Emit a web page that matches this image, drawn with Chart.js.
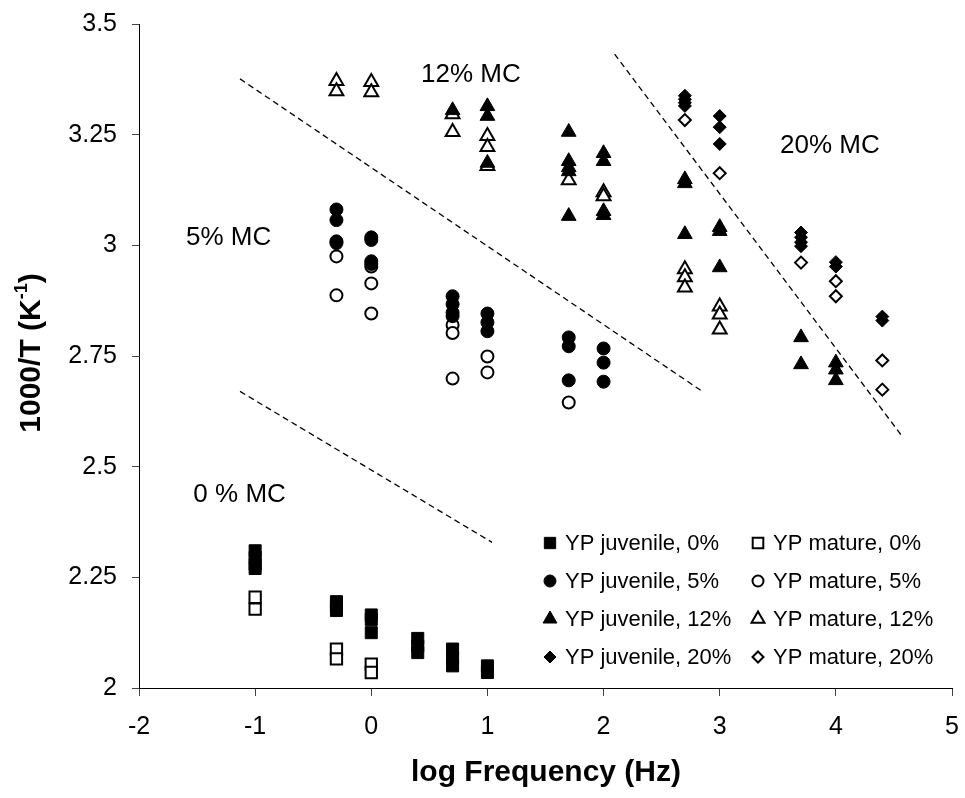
<!DOCTYPE html>
<html>
<head>
<meta charset="utf-8">
<script src="https://cdn.jsdelivr.net/npm/chart.js@4.4.1/dist/chart.umd.min.js"></script>
<style>
  body { margin: 0; background: #fff; }
  canvas { display: block; }
</style>
</head>
<body>
<canvas id="chart" width="965" height="798"></canvas>
<script>
// tick labels
const xTickLabels = ['-2', '-1', '0', '1', '2', '3', '4', '5'];
const yTickLabels = ['2', '2.25', '2.5', '2.75', '3', '3.25', '3.5'];

// YP juvenile / mature, per moisture content (log frequency, 1000/T)
const juv0X = [-1, -1, -1, -1, -0.3, -0.3, -0.3, 0, 0, 0, 0.4, 0.4, 0.4, 0.7, 0.7, 0.7, 1, 1];
const juv0Y = [2.31, 2.295, 2.28, 2.27, 2.195, 2.185, 2.175, 2.165, 2.155, 2.125, 2.112, 2.095, 2.08, 2.088, 2.068, 2.05, 2.05, 2.035];
const mat0X = [-1, -1, -0.3, -0.3, 0, 0];
const mat0Y = [2.205, 2.178, 2.088, 2.066, 2.054, 2.035];

const juv5X = [-0.3, -0.3, -0.3, -0.3, 0, 0, 0, 0, 0.7, 0.7, 0.7, 0.7, 1, 1, 1, 1.7, 1.7, 1.7, 2, 2, 2];
const juv5Y = [3.081, 3.057, 3.009, 3.005, 3.018, 3.012, 2.964, 2.958, 2.885, 2.867, 2.848, 2.84, 2.846, 2.826, 2.806, 2.792, 2.772, 2.695, 2.767, 2.735, 2.692];
const mat5X = [-0.3, -0.3, 0, 0, 0, 0.7, 0.7, 0.7, 1, 1, 1.7];
const mat5Y = [2.975, 2.887, 2.952, 2.914, 2.846, 2.82, 2.802, 2.699, 2.749, 2.713, 2.645];

const juv12X = [0.7, 1, 1, 1, 1.7, 1.7, 1.7, 1.7, 1.7, 2, 2, 2, 2, 2.7, 2.7, 2.7, 3, 3, 3, 3.7, 3.7, 4, 4, 4];
const juv12Y = [3.305, 3.314, 3.292, 3.186, 3.256, 3.19, 3.176, 3.167, 3.066, 3.208, 3.19, 3.077, 3.068, 3.149, 3.14, 3.025, 3.041, 3.032, 2.95, 2.792, 2.731, 2.735, 2.719, 2.695];
const mat12X = [-0.3, -0.3, 0, 0, 0.7, 0.7, 1, 1, 1, 1.7, 2, 2, 2.7, 2.7, 2.7, 3, 3, 3];
const mat12Y = [3.371, 3.348, 3.369, 3.346, 3.296, 3.256, 3.247, 3.222, 3.179, 3.147, 3.12, 3.111, 2.946, 2.928, 2.905, 2.862, 2.844, 2.81];

const juv20X = [2.7, 2.7, 2.7, 2.7, 3, 3, 3, 3.7, 3.7, 3.7, 3.7, 4, 4, 4.4, 4.4];
const juv20Y = [3.338, 3.33, 3.322, 3.315, 3.292, 3.267, 3.229, 3.029, 3.018, 3.007, 2.998, 2.962, 2.952, 2.839, 2.83];
const mat20X = [2.7, 3, 3.7, 4, 4, 4.4, 4.4];
const mat20Y = [3.283, 3.163, 2.961, 2.919, 2.885, 2.74, 2.674];

// dashed boundary lines
const line0X = [-1.13, 1.04];
const line0Y = [2.670, 2.329];
const line5X = [-1.13, 2.856];
const line5Y = [3.376, 2.669];
const line20X = [2.095, 4.578];
const line20Y = [3.432, 2.566];

// region labels
const regionNames = ['12% MC', '20% MC', '5% MC', '0 % MC'];
const regionX = [0.858, 3.948, -1.228, -1.134];
const regionY = [3.385, 3.224, 3.018, 2.436];

const FONT = "'Liberation Sans', Arial, sans-serif";

function pts(xs, ys) {
    return xs.map((x, i) => ({ x: x, y: ys[i] }));
}

function markerSet(label, xs, ys, style, radius, filled) {
    return {
        label: label,
        data: pts(xs, ys),
        pointStyle: style,
        pointRadius: radius,
        pointHoverRadius: radius,
        backgroundColor: filled ? '#000' : '#fff',
        borderColor: '#000',
        pointBorderWidth: filled ? 1 : 2,
        borderWidth: filled ? 1 : 2,
        showLine: false
    };
}

function dashSet(xs, ys) {
    return {
        label: '',
        data: pts(xs, ys),
        showLine: true,
        borderColor: '#000',
        borderWidth: 1.3,
        borderDash: [6, 4],
        pointRadius: 0,
        fill: false
    };
}

const datasets = [
    markerSet('YP juvenile, 0%', juv0X, juv0Y, 'rect', 8.5, true),
    markerSet('YP mature, 0%', mat0X, mat0Y, 'rect', 8, false),
    markerSet('YP juvenile, 5%', juv5X, juv5Y, 'circle', 6.5, true),
    markerSet('YP mature, 5%', mat5X, mat5Y, 'circle', 6, false),
    markerSet('YP juvenile, 12%', juv12X, juv12Y, 'triangle', 8.5, true),
    markerSet('YP mature, 12%', mat12X, mat12Y, 'triangle', 8, false),
    markerSet('YP juvenile, 20%', juv20X, juv20Y, 'rectRot', 6.5, true),
    markerSet('YP mature, 20%', mat20X, mat20Y, 'rectRot', 6, false),
    dashSet(line0X, line0Y),
    dashSet(line5X, line5Y),
    dashSet(line20X, line20Y)
];

function drawMarker(ctx, style, x, y, r, filled) {
    ctx.save();
    ctx.beginPath();
    if (style === 'rect') {
        const s = r * Math.SQRT1_2;
        ctx.rect(x - s, y - s, 2 * s, 2 * s);
    } else if (style === 'circle') {
        ctx.arc(x, y, r, 0, Math.PI * 2);
    } else if (style === 'triangle') {
        for (let k = 0; k < 3; k++) {
            const a = k * 2 * Math.PI / 3;
            const px = x + Math.sin(a) * r, py = y - Math.cos(a) * r;
            if (k === 0) ctx.moveTo(px, py); else ctx.lineTo(px, py);
        }
        ctx.closePath();
    } else {
        ctx.moveTo(x, y - r);
        ctx.lineTo(x + r, y);
        ctx.lineTo(x, y + r);
        ctx.lineTo(x - r, y);
        ctx.closePath();
    }
    ctx.fillStyle = filled ? '#000' : '#fff';
    ctx.fill();
    ctx.lineWidth = filled ? 1 : 2;
    ctx.strokeStyle = '#000';
    ctx.stroke();
    ctx.restore();
}

const extras = {
    id: 'extras',
    afterDraw(chart) {
        const ctx = chart.ctx;
        const xs = chart.scales.x, ys = chart.scales.y;

        // region labels
        ctx.save();
        ctx.fillStyle = '#000';
        ctx.font = '26px ' + FONT;
        ctx.textAlign = 'center';
        ctx.textBaseline = 'middle';
        regionNames.forEach((t, i) => {
            ctx.fillText(t, xs.getPixelForValue(regionX[i]), ys.getPixelForValue(regionY[i]));
        });
        ctx.restore();

        // x title
        ctx.save();
        ctx.fillStyle = '#000';
        ctx.font = 'bold 30px ' + FONT;
        ctx.textAlign = 'center';
        ctx.textBaseline = 'middle';
        ctx.fillText('log Frequency (Hz)', 546, 773);
        ctx.restore();

        // y title with superscript
        ctx.save();
        ctx.translate(32, 353);
        ctx.rotate(-Math.PI / 2);
        ctx.fillStyle = '#000';
        ctx.textBaseline = 'middle';
        const big = 'bold 30px ' + FONT, small = 'bold 18px ' + FONT;
        ctx.font = big;
        const w1 = ctx.measureText('1000/T (K').width;
        const w3 = ctx.measureText(')').width;
        ctx.font = small;
        const w2 = ctx.measureText('-1').width;
        let x0 = -(w1 + w2 + w3) / 2;
        ctx.font = big;
        ctx.textAlign = 'left';
        ctx.fillText('1000/T (K', x0, 0);
        ctx.font = small;
        ctx.fillText('-1', x0 + w1, -10);
        ctx.font = big;
        ctx.fillText(')', x0 + w1 + w2, 0);
        ctx.restore();

        // legend, two columns
        ctx.save();
        ctx.font = '22px ' + FONT;
        ctx.textBaseline = 'middle';
        ctx.textAlign = 'left';
        ctx.fillStyle = '#000';
        const colX = [550, 758];
        const rowY = [543, 581, 619, 657];
        const styles = ['rect', 'circle', 'triangle', 'rectRot'];
        const sizes = [8, 6, 8, 6];
        for (let i = 0; i < 8; i++) {
            const row = Math.floor(i / 2), col = i % 2;
            const filled = col === 0;
            drawMarker(ctx, styles[row], colX[col], rowY[row], sizes[row] - (filled ? 0 : 0.5), filled);
            ctx.fillStyle = '#000';
            ctx.fillText(datasets[i].label, colX[col] + 15, rowY[row] + 1);
        }
        ctx.restore();
    }
};

new Chart(document.getElementById('chart').getContext('2d'), {
    type: 'scatter',
    data: { datasets: datasets },
    options: {
        responsive: false,
        animation: false,
        layout: { padding: { top: 24, right: 13, left: 0, bottom: 0 } },
        plugins: {
            legend: { display: false },
            tooltip: { enabled: false }
        },
        scales: {
            x: {
                type: 'linear',
                min: -2,
                max: 5,
                ticks: {
                    stepSize: 1,
                    padding: 16,
                    color: '#000',
                    font: { family: FONT, size: 25 },
                    callback: (v, i) => xTickLabels[i]
                },
                grid: { drawOnChartArea: false, drawTicks: true, tickLength: 8, color: '#444' },
                border: { display: true, color: '#000', width: 1 },
                afterFit: (s) => { s.height = 110; s.paddingLeft = 0; s.paddingRight = 0; }
            },
            y: {
                type: 'linear',
                min: 2,
                max: 3.5,
                ticks: {
                    stepSize: 0.25,
                    padding: 15,
                    color: '#000',
                    font: { family: FONT, size: 25 },
                    callback: (v, i) => yTickLabels[i]
                },
                grid: { drawOnChartArea: false, drawTicks: true, tickLength: 7, color: '#444' },
                border: { display: true, color: '#000', width: 1 },
                afterFit: (s) => { s.width = 139; s.paddingTop = 0; s.paddingBottom = 0; }
            }
        }
    },
    plugins: [extras]
});
</script>
</body>
</html>
